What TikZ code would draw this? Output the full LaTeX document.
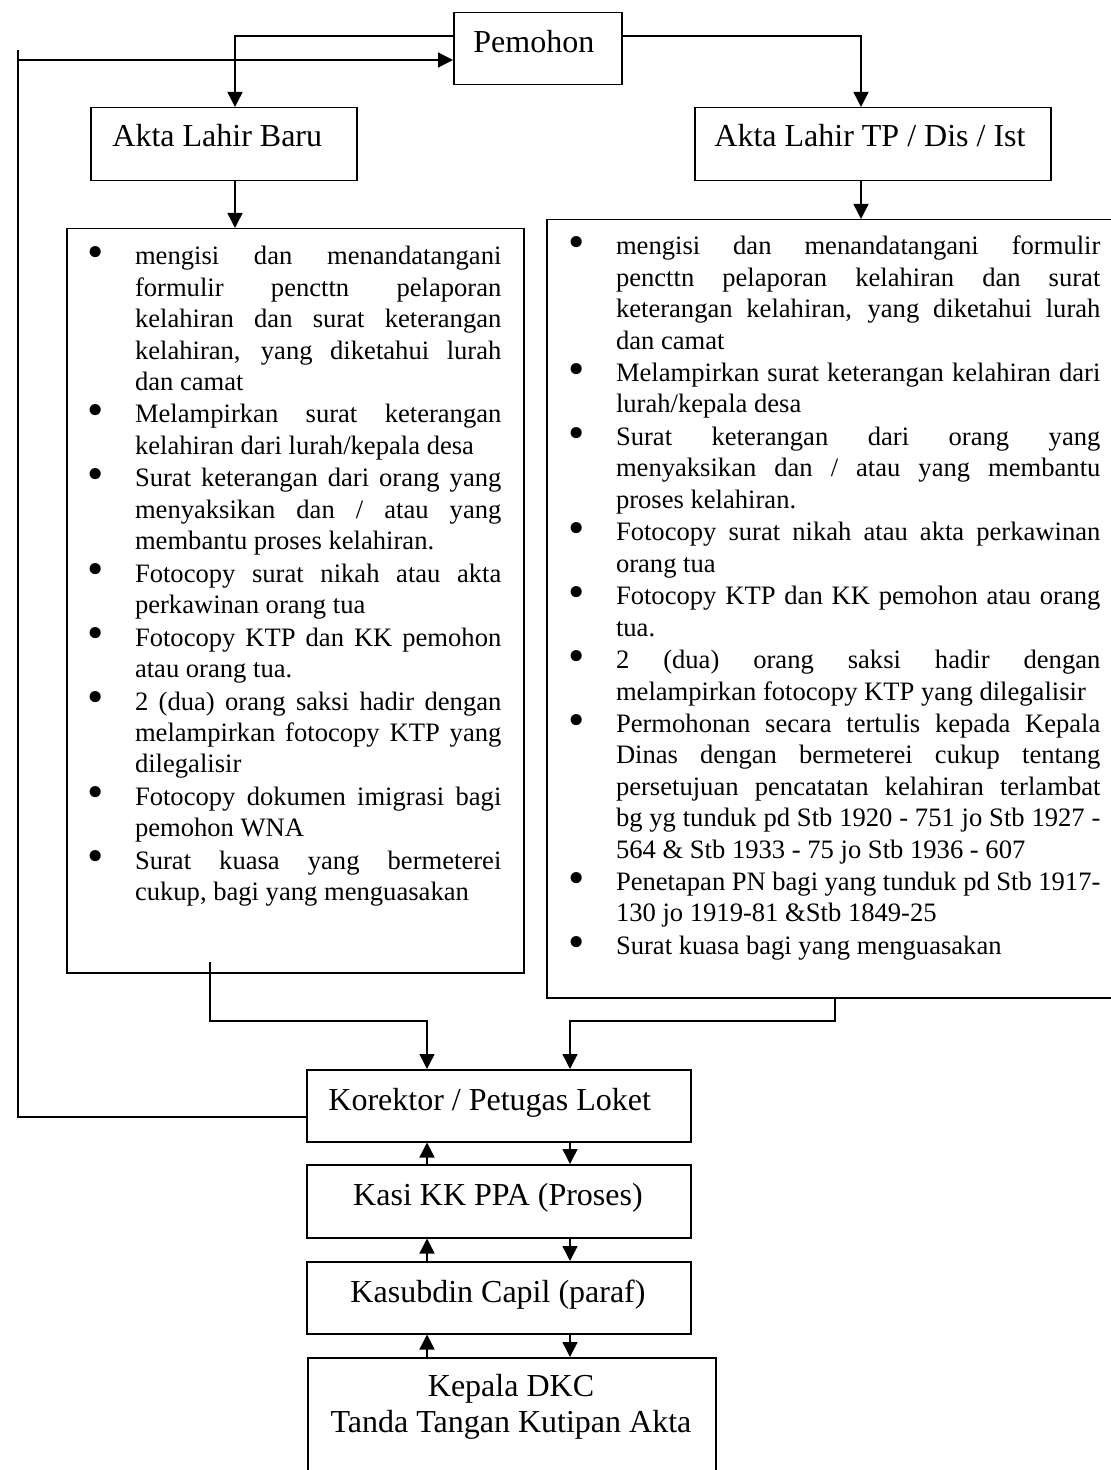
\documentclass[tikz,border=0pt]{standalone}
\usepackage{fontspec}
\usepackage{graphicx}
\setmainfont{Liberation Serif}
\usetikzlibrary{arrows.meta}
\newlength\lmarg
\setlength\lmarg{23.6pt}
\newcommand\bul{\raisebox{-1.3pt}{\scalebox{1.75}{\textbullet}}}
\newcommand\itm{\par\noindent\llap{\makebox[\lmarg][l]{\bul}}}
\newcommand\listsetup{\fontsize{13.3}{15.68}\selectfont\setlength\leftskip{\lmarg}\setlength\parskip{0.6pt}\tolerance=10000 \hyphenpenalty=10000 \exhyphenpenalty=10000 \parindent=0pt }
\begin{document}
\begin{tikzpicture}[x=0.5pt,y=-0.5pt,
  box/.style={draw, line width=0.75pt, inner sep=0pt, anchor=north west},
  conn/.style={line width=0.75pt},
  arr/.style={conn, -{Triangle[length=7.5pt,width=7.5pt]}},
  lbl/.style={inner sep=0pt, font=\fontsize{16}{18}\selectfont},
  lblL/.style={lbl, anchor=base west},
  lblC/.style={lbl, anchor=base},
]
\useasboundingbox (0,0) rectangle (1110,1470);

% boxes
\node[box, minimum width=84pt, minimum height=36pt] (pem) at (453,12) {};
\node[box, minimum width=133pt, minimum height=36.5pt] (baru) at (90,107) {};
\node[box, minimum width=178pt, minimum height=36.5pt] (tp) at (694,107) {};
\node[box, minimum width=228.5pt, minimum height=372pt] (listL) at (66,228) {};
\node[box, minimum width=286pt, minimum height=389pt] (listR) at (546,219) {};
\node[box, minimum width=192pt, minimum height=36pt] (kor) at (306,1069) {};
\node[box, minimum width=192pt, minimum height=36.5pt] (kasi) at (306,1164) {};
\node[box, minimum width=192pt, minimum height=36pt] (kas) at (306,1261) {};
\node[box, minimum width=204pt, minimum height=62pt] (kep) at (307,1357) {};

% labels
\node[lblL] (tpem) at (473,53) {Pemohon};
\node[lblL] (tbaru) at (112,147) {Akta Lahir Baru};
\node[lblL] (ttp) at (714,147) {Akta Lahir TP / Dis / Ist};
\node[lblL] (tkor) at (328,1110) {Korektor / Petugas Loket};
\node[lblC] (tkasi) at (498,1205) {Kasi KK PPA (Proses)};
\node[lblC] (tkas) at (498,1302) {Kasubdin Capil (paraf)};
\node[lblC] (tkep1) at (511,1396) {Kepala DKC};
\node[lblC] (tkep2) at (511,1432) {Tanda Tangan Kutipan Akta};

% list texts
\node[inner sep=0pt, anchor=base west] (tlistL) at (87.4,265) {\begin{minipage}[t]{206.8pt}\listsetup
\itm mengisi dan menandatangani\linebreak formulir pencttn pelaporan\linebreak kelahiran dan surat keterangan\linebreak kelahiran, yang diketahui lurah\linebreak dan camat
\itm Melampirkan surat keterangan\linebreak kelahiran dari lurah/kepala desa
\itm Surat keterangan dari orang yang\linebreak menyaksikan dan / atau yang\linebreak membantu proses kelahiran.
\itm Fotocopy surat nikah atau akta\linebreak perkawinan orang tua
\itm Fotocopy KTP dan KK pemohon\linebreak atau orang tua.
\itm 2 (dua) orang saksi hadir dengan\linebreak melampirkan fotocopy KTP yang\linebreak dilegalisir
\itm Fotocopy dokumen imigrasi bagi\linebreak pemohon WNA
\itm Surat kuasa yang bermeterei\linebreak cukup, bagi yang menguasakan\par
\end{minipage}};

\node[inner sep=0pt, anchor=base west] (tlistR) at (568.4,255) {\begin{minipage}[t]{265.8pt}\listsetup
\itm mengisi dan menandatangani formulir\linebreak pencttn pelaporan kelahiran dan surat\linebreak keterangan kelahiran, yang diketahui lurah\linebreak dan camat
\itm Melampirkan surat keterangan kelahiran dari\linebreak lurah/kepala desa
\itm Surat keterangan dari orang yang\linebreak menyaksikan dan / atau yang membantu\linebreak proses kelahiran.
\itm Fotocopy surat nikah atau akta perkawinan\linebreak orang tua
\itm Fotocopy KTP dan KK pemohon atau orang\linebreak tua.
\itm 2 (dua) orang saksi hadir dengan\linebreak melampirkan fotocopy KTP yang dilegalisir
\itm Permohonan secara tertulis kepada Kepala\linebreak Dinas dengan bermeterei cukup tentang\linebreak persetujuan pencatatan kelahiran terlambat\linebreak bg yg tunduk pd Stb 1920 - 751 jo Stb 1927 -\linebreak 564 \& Stb 1933 - 75 jo Stb 1936 - 607
\itm Penetapan PN bagi yang tunduk pd Stb 1917-\linebreak 130 jo 1919-81 \&Stb 1849-25
\itm Surat kuasa bagi yang menguasakan\par
\end{minipage}};

% helper coordinates
\coordinate (yA) at (0,36);
\coordinate (yB) at (0,60);
\coordinate (yTop) at (0,50);
\coordinate (yC) at (0,1021);
\coordinate (yK) at (0,1117);
\coordinate (xL) at (235,0);
\coordinate (xR) at (861,0);
\coordinate (xF) at (18,0);
\coordinate (xU) at (427,0);
\coordinate (xD) at (570,0);
\coordinate (lstub) at (210,962);
\coordinate (xRo) at (835,0);

% connectors
\draw[arr] (pem.west |- yA) -| (xL |- baru.north);
\draw[arr] (pem.east |- yA) -| (xR |- tp.north);
\draw[arr] (xL |- baru.south) -- (xL |- listL.north);
\draw[arr] (xR |- tp.south) -- (xR |- listR.north);
\draw[arr] (lstub) -- (lstub |- yC) -| (xU |- kor.north);
\draw[arr] (xRo |- listR.south) -- (xRo |- yC) -| (xD |- kor.north);
\draw[conn] (kor.west |- yK) -| (xF |- yTop);
\draw[arr] (xF |- yB) -- (pem.west |- yB);

\draw[arr] (xU |- kasi.north) -- (xU |- kor.south);
\draw[arr] (xD |- kor.south) -- (xD |- kasi.north);
\draw[arr] (xU |- kas.north) -- (xU |- kasi.south);
\draw[arr] (xD |- kasi.south) -- (xD |- kas.north);
\draw[arr] (xU |- kep.north) -- (xU |- kas.south);
\draw[arr] (xD |- kas.south) -- (xD |- kep.north);
\end{tikzpicture}
\end{document}
